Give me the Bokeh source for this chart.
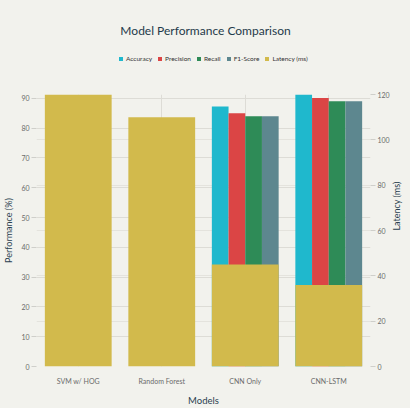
import math
from bokeh.plotting import figure
from bokeh.layouts import column
from bokeh.models import (ColumnDataSource, FactorRange, Range1d, LinearAxis, Legend,
                          LegendItem, Grid, SingleIntervalTicker, Label)
from bokeh.transform import dodge
from bokeh.embed import file_html
from bokeh.resources import INLINE

nan = float("nan")
models = ["SVM w/ HOG", "Random Forest", "CNN Only", "CNN-LSTM"]
accuracy = [nan, nan, 87.3, 91.3]
precision = [nan, nan, 85.0, 90.1]
recall = [nan, nan, 84.0, 89.0]
f1_score = [nan, nan, 84.0, 89.0]
latency = [120, 110, 45, 36]

series_names = ["Accuracy", "Precision", "Recall", "F1-Score", "Latency (ms)"]
series_cols = ["acc", "prec", "rec", "f1", "lat"]
colors = ["#1FB8CD", "#DB4545", "#2E8B57", "#5D878F", "#D2BA4C"]

src = ColumnDataSource(dict(model=models, acc=accuracy, prec=precision, rec=recall,
                            f1=f1_score, lat=latency))

BG = "#f2f2ed"
FONT = "Lato"
FRAME_LEFT = 36  # the column aligns the header frame with the chart frame

# ---------- header: title + legend ----------
HEAD_H = 80
hp = figure(width=410, height=HEAD_H, x_range=FactorRange(*models), y_range=Range1d(0, 130),
            x_axis_type=None, y_axis_type=None, output_backend="svg",
            toolbar_location=None, background_fill_color=BG, border_fill_color=BG,
            outline_line_color=None, min_border=0, min_border_left=0, min_border_right=0,
            min_border_top=0, min_border_bottom=0)
hp.xgrid.visible = False
hp.ygrid.visible = False

hp.add_layout(Label(x=205 - FRAME_LEFT, y=HEAD_H - 30, x_units="screen", y_units="screen",
                    text="Model Performance Comparison",
                    text_font=FONT, text_font_size="12px", text_color="#1f3a4a",
                    text_align="center", text_baseline="middle"))

legend_rs = []
for col, c in zip(series_cols, colors):
    legend_rs.append(hp.vbar(x="model", top=col, width=0.5, source=src,
                             fill_color=c, line_color=None, visible=False))

legend = Legend(items=[LegendItem(label=n, renderers=[r]) for n, r in zip(series_names, legend_rs)],
                orientation="horizontal", location=(118 - FRAME_LEFT, HEAD_H - 57 - 5))
legend.label_text_font = FONT
legend.label_text_font_size = "6.5px"
legend.label_text_color = "#333333"
legend.label_height = 7
legend.label_width = 10
legend.glyph_width = 5
legend.glyph_height = 5
legend.spacing = 5
legend.label_standoff = 3
legend.background_fill_alpha = 0
legend.border_line_color = None
legend.inactive_fill_alpha = 0
legend.margin = 0
legend.padding = 2
hp.add_layout(legend)

# ---------- main chart ----------
p = figure(x_range=FactorRange(*models), y_range=Range1d(0, 91.3),
           width=410, height=408 - HEAD_H, output_backend="svg", toolbar_location=None,
           background_fill_color=BG, border_fill_color=BG, outline_line_color=None)
p.min_border_left = FRAME_LEFT
p.min_border_right = 40
p.min_border_top = 94 - HEAD_H
p.min_border_bottom = 41

p.extra_y_ranges = {"lat": Range1d(0, 120)}

offsets = [-0.3, -0.1, 0.1, 0.3]
for col, off, c in zip(series_cols[:4], offsets, colors[:4]):
    p.vbar(x=dodge("model", off, range=p.x_range), top=col, width=0.2, source=src,
           fill_color=c, line_color=None)

p.vbar(x="model", top="lat", width=0.8, source=src, y_range_name="lat",
       fill_color=colors[4], line_color=None)

def style_axis(ax):
    ax.axis_line_color = None
    ax.major_tick_line_color = "#cfcfca"
    ax.major_tick_out = 5
    ax.major_tick_in = 0
    ax.minor_tick_line_color = None
    ax.major_label_text_font = FONT
    ax.major_label_text_font_size = "7px"
    ax.major_label_text_color = "#6b6b6b"
    ax.major_label_standoff = 2
    ax.axis_label_text_font = FONT
    ax.axis_label_text_font_style = "normal"
    ax.axis_label_text_color = "#2a3f50"
    ax.axis_label_standoff = 4

style_axis(p.xaxis[0])
style_axis(p.yaxis[0])
p.xaxis.axis_label = "Models"
p.xaxis.axis_label_text_font_size = "9.5px"
p.xaxis.axis_label_standoff = 7
p.xaxis.major_label_standoff = 5
p.xaxis.major_tick_line_color = None
p.yaxis.axis_label = "Performance (%)"
p.yaxis.axis_label_text_font_size = "9px"
p.yaxis.ticker = SingleIntervalTicker(interval=10)

ra = LinearAxis(y_range_name="lat", axis_label="Latency (ms)",
                ticker=SingleIntervalTicker(interval=20))
style_axis(ra)
ra.axis_label_text_font_size = "9px"
ra.axis_label_orientation = math.pi / 2
p.add_layout(ra, "right")

p.ygrid.grid_line_color = "#dddcd6"
p.xgrid.grid_line_color = "#dddcd6"
g2 = Grid(dimension=1, ticker=ra.ticker, y_range_name="lat", grid_line_color="#e4e3dd")
p.add_layout(g2)

layout = column(hp, p, spacing=0, styles={"background-color": BG})
open("out.html", "w").write(file_html(layout, INLINE))
